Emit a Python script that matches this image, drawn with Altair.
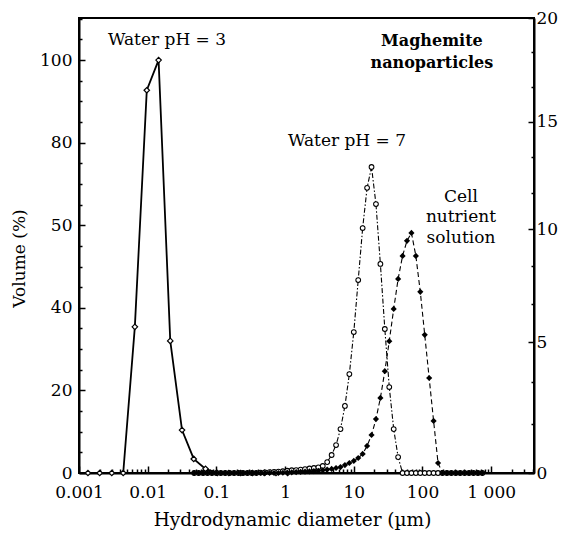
import altair as alt
import pandas as pd

# ---- Water pH = 3 (left axis, Volume %) ----
ph3_size = [0.00135, 0.0020, 0.0030, 0.0044, 0.0065, 0.0097, 0.0144, 0.0213, 0.0316,
            0.0468, 0.0694, 0.103, 0.152, 0.226, 0.335, 0.497, 0.737, 1.09]
ph3_vol = [0, 0, 0, 0, 35.4, 92.7, 100, 32, 10.4, 3.4, 1.0, 0, 0, 0, 0, 0, 0, 0]

# ---- fine size grid for Water pH = 7 and cell nutrient solution (right axis) ----
fine_size = [0.0475, 0.0552, 0.0640, 0.0742, 0.0861, 0.0999, 0.1159, 0.1345, 0.1561, 0.1811,
             0.2101, 0.2437, 0.2828, 0.3281, 0.3806, 0.4416, 0.512, 0.594, 0.690, 0.800,
             0.928, 1.077, 1.249, 1.449, 1.682, 1.951, 2.263, 2.626, 3.047, 3.535,
             4.101, 4.758, 5.520, 6.404, 7.429, 8.619, 10.0, 11.60, 13.46, 15.62,
             18.12, 21.02, 24.39, 28.30, 32.84, 38.10, 44.20, 51.29, 59.50, 69.03,
             80.09, 92.92, 107.8, 125.1, 145.1, 168.4, 195.3, 226.6, 262.9, 305.1,
             353.9, 410.6, 476.4, 552.7, 641.3, 744.0]
ph7_vol = [0, 0, 0, 0, 0, 0, 0, 0, 0, 0,
           0, 0, 0, 0, 0, 0.0093, 0.0146, 0.020, 0.0257, 0.0315,
           0.0433, 0.0555, 0.068, 0.0743, 0.087, 0.100, 0.120, 0.133, 0.154, 0.195,
           0.317, 0.552, 0.902, 1.488, 2.384, 3.67, 5.44, 7.71, 10.05, 11.90,
           12.87, 11.15, 8.43, 5.57, 3.14, 1.488, 0.482, 0, 0, 0,
           0, 0, 0, 0, 0, 0, 0, 0, 0, 0,
           0, 0, 0, 0, 0, 0]
cell_vol = [0, 0, 0, 0, 0, 0, 0, 0, 0, 0,
            0, 0, 0, 0, 0, 0, 0, 0, 0, 0,
            0.0043, 0.0093, 0.0146, 0.020, 0.0257, 0.0315, 0.0374, 0.0433, 0.0555, 0.068,
            0.087, 0.107, 0.133, 0.160, 0.223, 0.288, 0.354, 0.452, 0.591, 0.870,
            1.267, 1.87, 2.70, 3.79, 5.05, 6.44, 7.76, 8.79, 9.47, 9.83,
            8.79, 7.19, 5.32, 3.51, 1.80, 0.288, 0, 0, 0, 0,
            0, 0, 0, 0, 0, 0]

# ---- annotations (left-axis units) ----
ann_text = ["Water pH = 3", "Water pH = 7", "Cell", "nutrient", "solution"]
ann_x = [0.0191, 7.96, 363, 363, 363]
ann_y = [104.8, 80.4, 66.8, 62.0, 56.9]
bold_text = ["Maghemite", "nanoparticles"]
bold_x = [137, 137]
bold_y = [104.6, 99.3]

# tick labels
x_decades = [0.001, 0.01, 0.1, 1, 10, 100, 1000]
x_labels = ["0.001", "0.01", "0.1", "1", "10", "100", "1 000"]
left_major = [0, 20, 40, 60, 80, 100]
left_labels = ["0", "20", "40", "50", "80", "100"]

df3 = pd.DataFrame({"size": ph3_size, "vol": ph3_vol})
dff = pd.DataFrame({"size": fine_size, "ph7": ph7_vol, "cell": cell_vol})
dfa = pd.DataFrame({"x": ann_x, "y": ann_y, "t": ann_text})
dfb = pd.DataFrame({"x": bold_x, "y": bold_y, "t": bold_text})

FONT = "DejaVu Serif"

x_ticks = []
for e in range(-3, 4):
    for d in range(1, 10):
        v = round(d * 10.0 ** e, 6)
        if v <= 4200:
            x_ticks.append(v)

x_lab_expr = " : ".join(
    [f"abs(datum.value - {v}) < {v * 1e-3} ? '{l}'" for v, l in zip(x_decades, x_labels)]
) + " : ''"
x_major_test = " || ".join([f"abs(datum.value - {v}) < {v * 1e-3}" for v in x_decades])

x_axis = alt.Axis(
    values=x_ticks, labelExpr=x_lab_expr, title="Hydrodynamic diameter (\u00b5m)",
    tickSize={"condition": {"test": x_major_test, "value": -7}, "value": -4},
    labelPadding=18, titlePadding=7, titleX=213, titleFontSize=18.5,
    labelFlush=False, labelOverlap=False,
)

left_ticks = list(range(0, 111, 5))
l_lab_expr = " : ".join(
    [f"datum.value == {v} ? '{l}'" for v, l in zip(left_major, left_labels)]
) + " : ''"
yl_axis = alt.Axis(
    values=left_ticks, labelExpr=l_lab_expr, title="Volume (%)", orient="left",
    tickSize={"condition": {"test": "datum.value % 20 == 0", "value": -6}, "value": -3},
    labelPadding=13, titlePadding=11, titleY=240, labelOverlap=False, labelFlush=False,
)

right_ticks = [round(i * 5 / 3, 4) for i in range(13)]
r_major_test = "abs(datum.value / 5 - round(datum.value / 5)) < 0.001"
r_lab_expr = f"{r_major_test} ? toString(round(datum.value)) : ''"
yr_axis = alt.Axis(
    values=right_ticks, labelExpr=r_lab_expr, title=None, orient="right",
    tickSize={"condition": {"test": r_major_test, "value": -6}, "value": -3},
    labelPadding=8, labelOverlap=False, labelFlush=False,
)

xs = alt.Scale(type="log", domain=[0.001, 4200], nice=False)
yls = alt.Scale(domain=[0, 110.2], nice=False)
yrs = alt.Scale(type="pow", exponent=0.9, domain=[0, 20], nice=False)

X = alt.X("size:Q", scale=xs, axis=x_axis)

base3 = alt.Chart(df3).encode(x=X, y=alt.Y("vol:Q", scale=yls, axis=yl_axis))
line3 = base3.mark_line(color="black", strokeWidth=1.8)
pts3 = base3.mark_point(shape="diamond", size=30, filled=True, fill="white",
                        stroke="black", strokeWidth=1.2, opacity=1)

txt = alt.Chart(dfa).mark_text(font=FONT, fontSize=17, color="black").encode(
    x=alt.X("x:Q", scale=xs, axis=x_axis),
    y=alt.Y("y:Q", scale=yls, axis=yl_axis), text="t:N")
txtb = alt.Chart(dfb).mark_text(font=FONT, fontSize=16, fontWeight="bold", color="black").encode(
    x=alt.X("x:Q", scale=xs, axis=x_axis),
    y=alt.Y("y:Q", scale=yls, axis=yl_axis), text="t:N")

left = alt.layer(line3, pts3, txt, txtb)

basef = alt.Chart(dff).encode(x=X)
line7 = basef.mark_line(color="black", strokeWidth=1.1, strokeDash=[5, 2, 1.5, 2]).encode(
    y=alt.Y("ph7:Q", scale=yrs, axis=yr_axis))
pts7 = basef.mark_point(shape="circle", size=22, filled=True, fill="white",
                        stroke="black", strokeWidth=1.1, opacity=1).encode(
    y=alt.Y("ph7:Q", scale=yrs, axis=yr_axis))
linec = basef.mark_line(color="black", strokeWidth=1.1, strokeDash=[5, 3]).encode(
    y=alt.Y("cell:Q", scale=yrs, axis=yr_axis))
ptsc = basef.mark_point(shape="diamond", size=38, filled=True, color="black",
                        opacity=1).encode(
    y=alt.Y("cell:Q", scale=yrs, axis=yr_axis))

right = alt.layer(line7, linec, pts7, ptsc)

chart = alt.layer(left, right).resolve_scale(y="independent").properties(
    width=455, height=455,
    autosize=alt.AutoSizeParams(type="none"),
    padding={"left": 71, "top": 10, "right": 26, "bottom": 60},
).configure_view(stroke="black", strokeWidth=2).configure_axis(
    labelFont=FONT, labelFontSize=17, labelColor="black",
    titleFont=FONT, titleFontSize=17, titleFontWeight="normal", titleColor="black",
    domainColor="black", domainWidth=2, tickColor="black", tickWidth=1.5, grid=False,
)

chart.save("out.html", embed_options={"renderer": "svg", "actions": False})
